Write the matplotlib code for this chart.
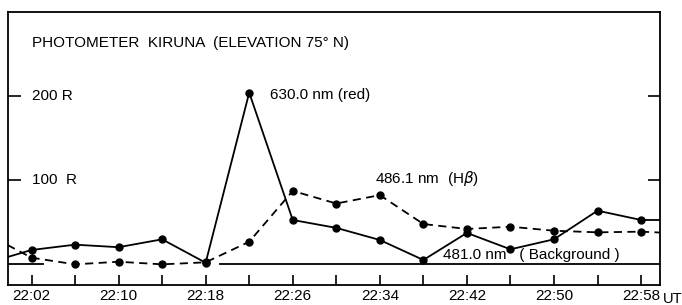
import numpy as np
import matplotlib
matplotlib.use('Agg')
import matplotlib.pyplot as plt
from matplotlib.transforms import blended_transform_factory

plt.rcParams['font.family'] = ['Liberation Sans', 'DejaVu Sans']

# minutes after 22:00 UT, one reading every 4 min
MINUTES = [2, 6, 10, 14, 18, 22, 26, 30, 34, 38, 42, 46, 50, 54, 58]
RED_630 = [16.7, 23, 20, 29.4, 1.5, 204, 52.4, 43, 28.6, 4.8, 37, 17.5, 29.4, 63.5, 52.4]
HBETA_486 = [7.5, -0.4, 2.7, -0.4, 2.0, 26.5, 87, 72, 82, 47.6, 41.7, 44.4, 39.6, 37.7, 38.5]
# values where the traces enter/leave the frame (no reading marked there)
RED_EDGES = [(-0.2, 8.3), (60, 52.4)]
HBETA_EDGES = [(-0.2, 22.6), (60, 37.3)]
# background channel drawn as a flat line at 0 R, broken where the traces cross
BG_SEGMENTS = [(-0.2, 3.1), (19.3, 60)]

TICK_MIN = list(range(2, 59, 4))
LABEL_MIN = list(range(2, 59, 8))

FS = 11

fig = plt.figure(figsize=(6.82, 3.05), dpi=100)
ax = fig.add_axes([8 / 682, 20.5 / 305, 652 / 682, 272.5 / 305])


def with_edges(vals, edges):
    x = [edges[0][0]] + MINUTES + [edges[1][0]]
    y = [edges[0][1]] + vals + [edges[1][1]]
    return x, y


x, y = with_edges(RED_630, RED_EDGES)
ax.plot(x, y, color='black', lw=1.3, zorder=3)
ax.plot(MINUTES, RED_630, 'o', color='black', ms=5, zorder=4)

x, y = with_edges(HBETA_486, HBETA_EDGES)
ax.plot(x, y, color='black', lw=1.3, dashes=(4.5, 3), zorder=3)
ax.plot(MINUTES, HBETA_486, 'o', color='black', ms=5, zorder=4)

for a, b in BG_SEGMENTS:
    ax.plot([a, b], [0, 0], color='black', lw=1.3, zorder=2)

ax.set_xlim(-0.16, 59.74)
ax.set_ylim(-24.4, 300)

ax.set_xticks(TICK_MIN)
ax.set_xticklabels([f'22:{m:02d}' if m in LABEL_MIN else '' for m in TICK_MIN], fontsize=FS)
ax.tick_params(axis='x', direction='in', length=7, width=1.2, pad=3)
ax.set_yticks([100, 200])
ax.set_yticklabels([])
ax.tick_params(axis='y', direction='in', length=9, width=1.2, left=True, right=True)
for s in ax.spines.values():
    s.set_linewidth(1.3)

ax.text(2.0, 263, 'PHOTOMETER  KIRUNA  (ELEVATION 75° N)', fontsize=FS, va='center')
tr = blended_transform_factory(ax.transAxes, ax.transData)
ax.text(0.037, 200, '200 R', fontsize=FS, va='center', transform=tr)
ax.text(0.037, 100, '100  R', fontsize=FS, va='center', transform=tr)
ax.text(23.9, 201, '630.0 nm (red)', fontsize=FS, va='center')
ax.text(33.6, 102, '486.1 nm  (H$\\beta$)', fontsize=FS, va='center')
ax.text(39.8, 10.7, '481.0 nm   ( Background )', fontsize=FS, va='center')
ax.text(1.004, -0.028, 'UT', fontsize=FS - 0.5, va='top', transform=ax.transAxes)

fig.savefig('out.png', dpi=100)
